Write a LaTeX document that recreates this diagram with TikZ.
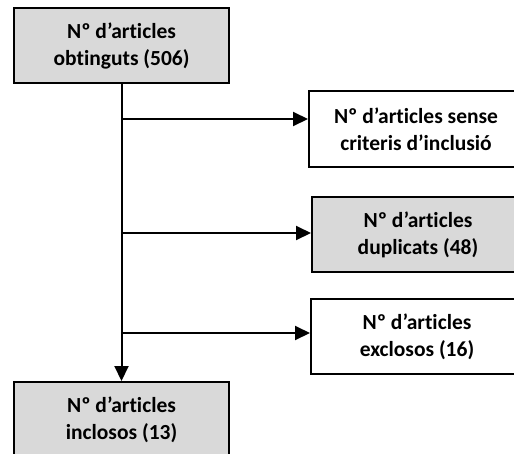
\documentclass[tikz,border=0pt]{standalone}
\usepackage{fontspec}
\setmainfont{Carlito}[Ligatures=NoCommon]
\usetikzlibrary{arrows.meta}
\definecolor{boxgray}{HTML}{D9D9D9}
\begin{document}
\begin{tikzpicture}[x=1pt,y=-1pt,
  basebox/.style={draw=black, line width=2pt, minimum width=215pt, minimum height=75pt, inner sep=0pt, align=center, font=\fontsize{21.5}{27}\selectfont\bfseries},
  greybox/.style={basebox, fill=boxgray},
  plainbox/.style={basebox, fill=white},
  conn/.style={line width=2pt, -{Triangle[length=15pt,width=14pt]}}]
\useasboundingbox (0,0) rectangle (514,453);
\clip (0,0) rectangle (514,453);
\node[greybox] (top) at (121.5,45.5) {Nº d’articles\\obtinguts (506)};
\node[plainbox, minimum width=214pt, minimum height=76pt] (sense) at (416,129) {Nº d’articles sense\\criteris d’inclusió};
\node[greybox, minimum width=212pt] (dup) at (418,234.5) {Nº d’articles\\duplicats (48)};
\node[plainbox, minimum width=212pt] (excl) at (417,336.5) {Nº d’articles\\exclosos (16)};
\node[greybox] (incl) at (121.5,419.5) {Nº d’articles\\inclosos (13)};
\draw[conn] (top.south) -- (incl.north);
\coordinate (j1) at (121.5,119);
\coordinate (j2) at (121.5,233);
\coordinate (j3) at (121.5,333);
\draw[conn] (j1) -- (j1 -| sense.west);
\draw[conn] (j2) -- (j2 -| dup.west);
\draw[conn] (j3) -- (j3 -| excl.west);
\end{tikzpicture}
\end{document}
